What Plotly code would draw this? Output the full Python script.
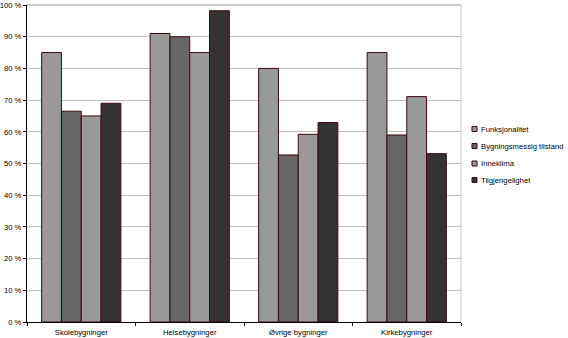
import plotly.graph_objects as go

categories = ["Skolebygninger", "Helsebygninger", "Øvrige bygninger", "Kirkebygninger"]
series_names = ["Funksjonalitet", "Bygningsmessig tilstand", "Inneklima", "Tilgjengelighet"]
funksjonalitet = [85, 91, 80, 85]
bygningsmessig = [66.5, 90, 52.7, 59]
inneklima = [65, 85, 59.2, 71.1]
tilgjengelighet = [69, 98.2, 62.9, 53.1]
y_ticks = [0, 10, 20, 30, 40, 50, 60, 70, 80, 90, 100]
y_tick_labels = [f"{v} %" for v in y_ticks]

values = [funksjonalitet, bygningsmessig, inneklima, tilgjengelighet]
colors = ["#999999", "#666666", "#999999", "#333333"]
outline = "#3a0a0a"
font_family = "Liberation Sans, Arial, sans-serif"

fig = go.Figure()
for name, vals, col in zip(series_names, values, colors):
    fig.add_trace(go.Bar(
        x=categories, y=vals, name=name,
        marker=dict(color=col, line=dict(color=outline, width=1)),
        showlegend=False,
    ))

W, H = 568, 338
ml, mr, mt, mb = 27, 107, 5, 16

fig.update_layout(
    width=W, height=H,
    margin=dict(l=ml, r=mr, t=mt, b=mb, pad=0),
    paper_bgcolor="white", plot_bgcolor="white",
    barmode="group", bargap=0.27, bargroupgap=0,
    font=dict(family=font_family, size=7.7, color="#000000"),
    xaxis=dict(
        automargin=False,
        showline=True, linecolor="#000000", linewidth=1,
        ticks="outside", tickson="boundaries", ticklen=3, tickcolor="#000000",
        showgrid=False, tickfont=dict(size=7.7), ticklabelstandoff=3,
    ),
    yaxis=dict(
        automargin=False,
        range=[0, 100], tickvals=y_ticks, ticktext=y_tick_labels,
        showline=True, linecolor="#000000", linewidth=1,
        ticks="outside", ticklen=3, tickcolor="#000000",
        showgrid=True, gridcolor="#c0c0c0", gridwidth=1,
        zeroline=False, tickfont=dict(size=7.7),
    ),
)

# plot area border (top and right) in grey
fig.add_shape(type="line", xref="paper", yref="paper", x0=0, x1=1, y0=1, y1=1,
              line=dict(color="#c8c8c8", width=2))
fig.add_shape(type="line", xref="paper", yref="paper", x0=1, x1=1, y0=0, y1=1,
              line=dict(color="#c8c8c8", width=1))

# manual legend
legend_rows_y = [129, 146, 163.5, 180]
for name, col, yp in zip(series_names, colors, legend_rows_y):
    fig.add_shape(type="rect", xref="paper", yref="paper",
                  x0=(472 - ml) / (W - ml - mr), x1=(477 - ml) / (W - ml - mr),
                  y0=(H - mb - (yp + 2.5)) / (H - mt - mb), y1=(H - mb - (yp - 2.5)) / (H - mt - mb),
                  fillcolor=col, line=dict(color=outline, width=1))
    fig.add_annotation(text=name, xref="paper", yref="paper",
                       x=(479 - ml) / (W - ml - mr), y=(H - mb - yp) / (H - mt - mb),
                       xanchor="left", yanchor="middle", showarrow=False,
                       font=dict(size=7.7, family=font_family, color="#000000"))

fig.write_html("out.html")
